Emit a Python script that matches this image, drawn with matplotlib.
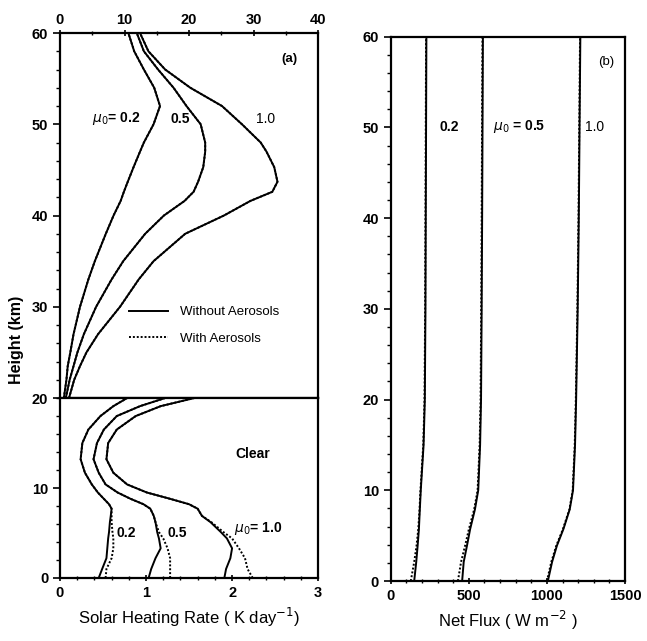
import numpy as np
import matplotlib.pyplot as plt
from matplotlib.ticker import MultipleLocator

# ---- data ----

# panel (a), upper part (20-60 km), top axis 0-40 K/day
h_up = [20, 21, 22, 23.5, 25, 27, 30, 33, 35, 38, 40, 41.6, 42.6, 43.7, 45.3, 47, 48, 50, 52, 54, 56, 58, 60]
q_up_02 = [0.6, 0.8, 1.0, 1.2, 1.6, 2.1, 3.1, 4.4, 5.4, 7.1, 8.3, 9.4, 9.9, 10.5, 11.4, 12.4, 13.0, 14.5, 15.5, 14.6, 13.0, 11.5, 10.6]
q_up_05 = [0.9, 1.2, 1.5, 2.1, 2.7, 3.7, 5.6, 8.0, 9.8, 13.2, 16.1, 19.3, 20.7, 21.4, 22.2, 22.5, 22.5, 21.8, 19.6, 17.6, 15.2, 13.0, 11.9]
q_up_10 = [1.4, 1.8, 2.2, 3.1, 4.1, 5.9, 9.3, 12.2, 14.5, 19.4, 25.4, 29.5, 32.9, 33.7, 33.2, 32.0, 31.1, 28.2, 25.1, 20.2, 16.3, 13.7, 12.4]

# panel (a), lower part (0-20 km), bottom axis 0-3 K/day
h_lo = [0, 1.0, 2.2, 3.3, 4.4, 5.1, 6.2, 6.9, 7.7, 8.2, 8.8, 9.5, 10.4, 11.7, 13.2, 15.0, 16.5, 18.0, 19.1, 20]
q_lo_02 = [0.45, 0.49, 0.54, 0.55, 0.56, 0.57, 0.58, 0.59, 0.60, 0.57, 0.51, 0.44, 0.37, 0.29, 0.24, 0.26, 0.33, 0.47, 0.62, 0.78]
q_lo_02_aer = [0.53, 0.54, 0.60, 0.62, 0.62, 0.61, 0.60, 0.60, 0.60, 0.57, 0.51, 0.44, 0.37, 0.29, 0.24, 0.26, 0.33, 0.47, 0.62, 0.78]
q_lo_05 = [1.03, 1.06, 1.11, 1.17, 1.15, 1.13, 1.11, 1.09, 1.05, 0.97, 0.82, 0.67, 0.53, 0.45, 0.39, 0.43, 0.51, 0.66, 0.93, 1.22]
q_lo_05_aer = [1.28, 1.28, 1.28, 1.25, 1.20, 1.15, 1.11, 1.09, 1.05, 0.97, 0.82, 0.67, 0.53, 0.45, 0.39, 0.43, 0.51, 0.66, 0.93, 1.22]
q_lo_10 = [1.91, 1.93, 1.98, 2.00, 1.94, 1.87, 1.75, 1.65, 1.60, 1.50, 1.28, 1.01, 0.78, 0.62, 0.54, 0.56, 0.66, 0.88, 1.17, 1.56]
q_lo_10_aer = [2.24, 2.18, 2.15, 2.08, 2.00, 1.90, 1.76, 1.65, 1.60, 1.50, 1.28, 1.01, 0.78, 0.62, 0.54, 0.56, 0.66, 0.88, 1.17, 1.56]

# panel (b), net flux (W m-2)
h_b = [0, 2.1, 3.9, 5.7, 7.9, 10, 15, 20, 30, 40, 60]
f_02 = [150, 163, 172, 180, 186, 192, 210, 218, 222, 224, 228]
f_02_aer = [128, 150, 165, 176, 184, 190, 208, 216, 220, 222, 226]
f_05 = [457, 467, 488, 508, 539, 560, 572, 578, 582, 585, 590]
f_05_aer = [430, 450, 476, 500, 534, 556, 569, 575, 579, 582, 587]
f_10 = [1006, 1033, 1064, 1105, 1146, 1167, 1180, 1187, 1197, 1204, 1214]
f_10_aer = [1000, 1028, 1060, 1102, 1144, 1165, 1178, 1185, 1195, 1202, 1212]

# ---- figure ----
plt.rcParams['font.family'] = 'Liberation Sans'
plt.rcParams['axes.linewidth'] = 1.6

fig = plt.figure(figsize=(6.47, 6.41), dpi=100)

ax_up = fig.add_axes([0.0927, 0.3790, 0.399, 0.5695])
ax_lo = fig.add_axes([0.0927, 0.0983, 0.399, 0.2807])
ax_b = fig.add_axes([0.604, 0.0936, 0.362, 0.849])

solid = dict(color='black', linewidth=1.4, linestyle='-')
dotted = dict(color='black', linewidth=1.4, linestyle=(0, (1, 1)))

# upper part of (a)
for q in (q_up_02, q_up_05, q_up_10):
    ax_up.plot(q, h_up, **dotted)
    ax_up.plot(q, h_up, **solid)
ax_up.set_xlim(0, 40)
ax_up.set_ylim(20, 60)
ax_up.xaxis.tick_top()
ax_up.xaxis.set_major_locator(MultipleLocator(10))
ax_up.xaxis.set_minor_locator(MultipleLocator(5))
ax_up.set_yticks([30, 40, 50, 60])
ax_up.yaxis.set_minor_locator(MultipleLocator(2))

# lower part of (a)
for q, qa in ((q_lo_02, q_lo_02_aer), (q_lo_05, q_lo_05_aer), (q_lo_10, q_lo_10_aer)):
    ax_lo.plot(qa, h_lo, **dotted)
    ax_lo.plot(q, h_lo, **solid)
ax_lo.set_xlim(0, 3)
ax_lo.set_ylim(0, 20)
ax_lo.xaxis.set_major_locator(MultipleLocator(1))
ax_lo.xaxis.set_minor_locator(MultipleLocator(0.2))
ax_lo.set_yticks([0, 10, 20])
ax_lo.yaxis.set_minor_locator(MultipleLocator(2))

# panel (b)
for f, fa in ((f_02, f_02_aer), (f_05, f_05_aer), (f_10, f_10_aer)):
    ax_b.plot(fa, h_b, **dotted)
    ax_b.plot(f, h_b, **solid)
ax_b.set_xlim(0, 1500)
ax_b.set_ylim(0, 60)
ax_b.xaxis.set_major_locator(MultipleLocator(500))
ax_b.xaxis.set_minor_locator(MultipleLocator(100))
ax_b.yaxis.set_major_locator(MultipleLocator(10))
ax_b.yaxis.set_minor_locator(MultipleLocator(2))

for ax in (ax_up, ax_lo, ax_b):
    ax.tick_params(axis='both', which='major', labelsize=10.5, length=5, width=1.2, direction='inout')
    ax.tick_params(axis='both', which='minor', length=3, width=1.0, direction='inout')
    ax.tick_params(axis='y', which='both', direction='out')
    for lab in ax.get_xticklabels() + ax.get_yticklabels():
        lab.set_fontweight('bold')

ax_up.tick_params(axis='x', which='major', pad=2)

# legend in upper part
ax_up.plot([], [], label='Without Aerosols', **solid)
ax_up.plot([], [], label='With Aerosols', **dotted)
ax_up.legend(loc='upper left', bbox_to_anchor=(0.22, 0.285), frameon=False,
             fontsize=9.5, handlelength=3.0, labelspacing=1.1, handletextpad=0.9)

# annotations
ax_up.text(35.6, 57.2, '(a)', fontsize=9.5, ha='center', va='center', fontweight='bold')
ax_up.text(5.0, 50.6, r'$\mu_0$= 0.2', fontsize=10, ha='left', va='center', fontweight='bold')
ax_up.text(17.1, 50.6, '0.5', fontsize=10, ha='left', va='center', fontweight='bold')
ax_up.text(30.3, 50.6, '1.0', fontsize=10, ha='left', va='center')

ax_lo.text(2.04, 13.8, 'Clear', fontsize=10, ha='left', va='center', fontweight='bold')
ax_lo.text(0.66, 5.0, '0.2', fontsize=10, ha='left', va='center', fontweight='bold')
ax_lo.text(1.25, 5.0, '0.5', fontsize=10, ha='left', va='center', fontweight='bold')
ax_lo.text(2.02, 5.5, r'$\mu_0$= 1.0', fontsize=10, ha='left', va='center', fontweight='bold')

ax_b.text(1380, 57.2, '(b)', fontsize=9.5, ha='center', va='center')
ax_b.text(310, 50.1, '0.2', fontsize=10, ha='left', va='center', fontweight='bold')
ax_b.text(657, 50.1, r'$\mu_0$ = 0.5', fontsize=10, ha='left', va='center', fontweight='bold')
ax_b.text(1246, 50.1, '1.0', fontsize=10, ha='left', va='center')

# axis labels
fig.text(0.025, 0.47, 'Height (km)', rotation=90, fontsize=11.5, ha='center', va='center', fontweight='bold')
ax_lo.set_xlabel(r'Solar Heating Rate ( K day$^{-1}$)', fontsize=12, labelpad=4)
ax_b.set_xlabel(r'Net Flux ( W m$^{-2}$ )', fontsize=12, labelpad=4)

plt.savefig('out.png', dpi=100)
